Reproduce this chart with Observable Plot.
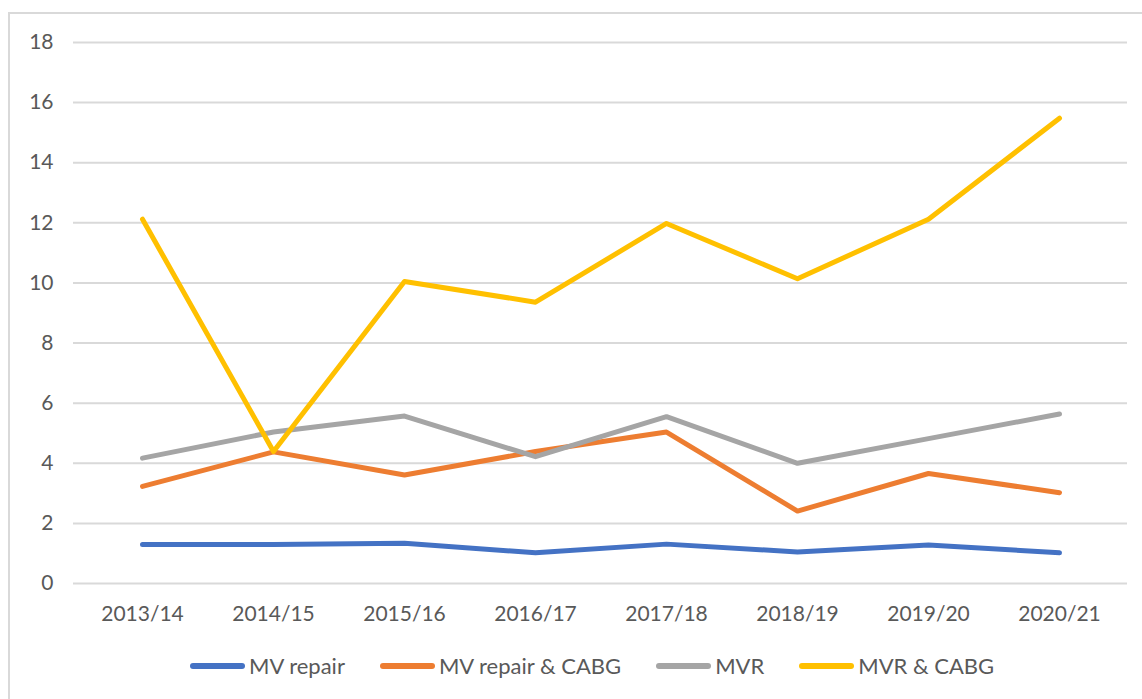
<!DOCTYPE html>
<html>
<head>
<meta charset="utf-8">
<script src="https://cdn.jsdelivr.net/npm/d3@7"></script>
<script src="https://cdn.jsdelivr.net/npm/@observablehq/plot@0.6"></script>
<style>
  html, body { margin: 0; padding: 0; background: #fff; }
  body { width: 1142px; height: 699px; position: relative; overflow: hidden; font-family: Lato, "Open Sans", sans-serif; }
  #frame { position: absolute; left: 8px; top: 12px; width: 1200px; height: 760px; border: 2px solid #d9d9d9; box-sizing: border-box; }
  #chart { position: absolute; left: 0; top: 0; }
  #legend { position: absolute; left: 190px; top: 652px; display: flex; align-items: center; font-size: 22px; color: #595959; white-space: nowrap; }
  .item { display: flex; align-items: center; margin-right: 35px; }
  .sw { width: 55px; height: 6px; border-radius: 3px; margin-right: 4px; }
</style>
</head>
<body>
<div id="frame"></div>
<div id="chart"></div>
<div id="legend"></div>
<script>
const years = ["2013/14", "2014/15", "2015/16", "2016/17", "2017/18", "2018/19", "2019/20", "2020/21"];
const seriesNames = ["MV repair", "MV repair & CABG", "MVR", "MVR & CABG"];
const seriesColors = ["#4472C4", "#ED7D31", "#A5A5A5", "#FFC000"];
const mvRepair = [1.30, 1.30, 1.34, 1.02, 1.31, 1.05, 1.28, 1.02];
const mvRepairCabg = [3.23, 4.38, 3.61, 4.39, 5.04, 2.41, 3.66, 3.02];
const mvr = [4.17, 5.04, 5.57, 4.22, 5.55, 4.00, 4.82, 5.64];
const mvrCabg = [12.12, 4.39, 10.05, 9.36, 11.98, 10.14, 12.12, 15.48];
const yTicks = [0, 2, 4, 6, 8, 10, 12, 14, 16, 18];

const seriesValues = [mvRepair, mvRepairCabg, mvr, mvrCabg];
const data = seriesNames.flatMap((s, i) => years.map((y, j) => ({series: s, year: y, value: seriesValues[i][j]})));

const chart = Plot.plot({
  width: 1142,
  height: 640,
  marginTop: 42,
  marginBottom: 57,
  marginLeft: 73,
  marginRight: 15,
  style: {fontFamily: "Lato, 'Open Sans', sans-serif", fontSize: "21px", color: "#595959", background: "transparent"},
  x: {type: "point", domain: years, padding: 0.5, label: null, tickSize: 0, tickPadding: 23},
  y: {domain: [0, 18], ticks: yTicks, label: null, tickSize: 0, tickPadding: 20},
  color: {domain: seriesNames, range: seriesColors},
  marks: [
    Plot.ruleY(yTicks, {stroke: "#d9d9d9", strokeWidth: 2}),
    Plot.line(data, {x: "year", y: "value", z: "series", stroke: "series", strokeWidth: 5, strokeLinecap: "round", strokeLinejoin: "round"})
  ]
});
document.getElementById("chart").appendChild(chart);

const legend = document.getElementById("legend");
seriesNames.forEach((s, i) => {
  const it = document.createElement("div");
  it.className = "item";
  const sw = document.createElement("div");
  sw.className = "sw";
  sw.style.background = seriesColors[i];
  const t = document.createElement("span");
  t.textContent = s;
  it.appendChild(sw);
  it.appendChild(t);
  legend.appendChild(it);
});
</script>
</body>
</html>
